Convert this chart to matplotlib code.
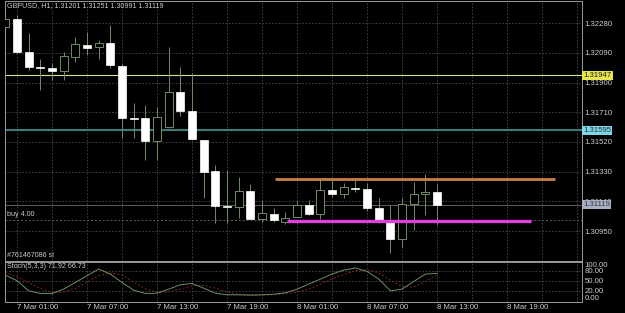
import matplotlib
matplotlib.use('Agg')
import matplotlib.pyplot as plt
from matplotlib.patches import Rectangle
import matplotlib.transforms as mtransforms

# ---------------- data ----------------
bars = list(range(1, 39))
opens = [1.32256, 1.32310, 1.32096, 1.32000, 1.31996, 1.31975, 1.32064, 1.32141, 1.32128, 1.32154,
         1.32007, 1.31674, 1.31674, 1.31526, 1.31616, 1.31840, 1.31719, 1.31533, 1.31334, 1.31110,
         1.31104, 1.31206, 1.31027, 1.31059, 1.31008, 1.31040, 1.31117, 1.31059, 1.31213, 1.31187,
         1.31225, 1.31219, 1.31097, 1.31008, 1.30899, 1.31123, 1.31187, 1.31201]
highs = [1.32327, 1.32333, 1.32218, 1.32051, 1.32026, 1.32096, 1.32192, 1.32224, 1.32173, 1.32269,
         1.32019, 1.31770, 1.31757, 1.31744, 1.32128, 1.32000, 1.31962, 1.31533, 1.31373, 1.31341,
         1.31296, 1.31251, 1.31142, 1.31097, 1.31072, 1.31142, 1.31149, 1.31283, 1.31283, 1.31257,
         1.31277, 1.31257, 1.31161, 1.31117, 1.31161, 1.31264, 1.31315, 1.31251]
lows = [1.32250, 1.32090, 1.31981, 1.31853, 1.31917, 1.31917, 1.32032, 1.32077, 1.32051, 1.31994,
        1.31546, 1.31546, 1.31405, 1.31405, 1.31610, 1.31686, 1.31539, 1.31161, 1.31001, 1.31001,
        1.31033, 1.31027, 1.31008, 1.31008, 1.30995, 1.31040, 1.31053, 1.31027, 1.31168, 1.31161,
        1.31200, 1.31078, 1.31001, 1.30809, 1.30848, 1.30957, 1.31053, 1.30991]
closes = [1.32308, 1.32096, 1.32000, 1.31996, 1.31975, 1.32071, 1.32147, 1.32122, 1.32154, 1.32013,
          1.31674, 1.31670, 1.31526, 1.31680, 1.31840, 1.31719, 1.31539, 1.31328, 1.31110, 1.31104,
          1.31206, 1.31027, 1.31065, 1.31021, 1.31033, 1.31117, 1.31059, 1.31213, 1.31187, 1.31232,
          1.31219, 1.31097, 1.31021, 1.30899, 1.31123, 1.31187, 1.31200, 1.31119]

stoch_main = [67, 50, 20, 12, 12, 25, 45, 65, 85, 70,
              45, 22, 12, 13, 25, 38, 42, 28, 13, 8,
              8, 7, 8, 10, 14, 25, 40, 55, 70, 82,
              88, 78, 55, 20, 25, 48, 70, 71.92]
stoch_signal = [75, 62, 45, 27, 15, 16, 27, 45, 65, 73,
                67, 46, 26, 16, 17, 25, 35, 36, 28, 16,
                10, 8, 8, 8, 11, 16, 26, 40, 55, 69,
                80, 83, 74, 51, 33, 31, 48, 66.73]

price_ticks = [1.32280, 1.32090, 1.31900, 1.31710, 1.31520, 1.31330, 1.31140, 1.30950]
time_tick_bars = [2, 8, 14, 20, 26, 32, 38, 44]
time_tick_labels = ['7 Mar 01:00', '7 Mar 07:00', '7 Mar 13:00', '7 Mar 19:00',
                    '8 Mar 01:00', '8 Mar 07:00', '8 Mar 13:00', '8 Mar 19:00']
grid_bars = list(range(2, 51, 3))
level_yellow = 1.31947
level_teal = 1.31595
level_orange = 1.31281
level_magenta = 1.31016
level_buy = 1.31021
level_bid = 1.31119
orange_span = (24.1, 48.1)
magenta_span = (25.1, 46.05)
stoch_ticks = [100, 80, 50, 20, 0]
stoch_levels = [80, 50, 20]
title_text = 'GBPUSD, H1, 1.31201 1.31251 1.30991 1.31119'
stoch_text = 'Stoch(5,3,3) 71.92 66.73'

# ---------------- style ----------------
BG = '#000000'
FG = '#cccccc'
FRAME = '#9a9a9a'
GRID = '#484848'
WICK = '#6e8e64'
FONT = 'Liberation Sans'
W, H = 625, 313

fig = plt.figure(figsize=(W / 100, H / 100), dpi=100, facecolor=BG)

def px_axes(x0, y0, x1, y1):
    return fig.add_axes([x0 / W, 1 - y1 / H, (x1 - x0) / W, (y1 - y0) / H])

ax = px_axes(5, 1, 582, 261)
ax2 = px_axes(5, 262, 582, 302)

XLIM = (0.974, 50.42)
for a in (ax, ax2):
    a.set_facecolor(BG)
    a.set_xlim(*XLIM)
    for s in a.spines.values():
        s.set_color(FRAME)
        s.set_linewidth(0.7)
    a.tick_params(length=0, colors=FG, labelsize=5.6)
    for gb in grid_bars:
        a.axvline(gb, color=GRID, lw=0.6, ls=(0, (2, 2)), zorder=0)

ax.set_ylim(1.307579, 1.324228)
ax.yaxis.tick_right()
ax.set_yticks(price_ticks)
ax.set_yticklabels([f'{p:.5f}' for p in price_ticks], fontfamily=FONT, fontsize=5.6, color=FG)
ax.tick_params(axis='y', pad=2)
ax.set_xticks([])
for p in price_ticks:
    ax.axhline(p, color=GRID, lw=0.6, ls=(0, (2, 2)), zorder=0)

# horizontal levels
ax.axhline(level_bid, color='#5c5c5c', lw=0.7, zorder=1)
ax.axhline(level_buy, color='#5c5c5c', lw=0.7, ls=(0, (2, 2)), zorder=1)
ax.axhline(level_yellow, color='#d8e08a', lw=0.8, zorder=1)
ax.axhline(level_teal, color='#3f7b76', lw=1.5, zorder=1)
ax.hlines(level_orange, *orange_span, color='#c8803e', lw=2.0, zorder=5)
ax.hlines(level_magenta, *magenta_span, color='#e040e0', lw=2.4, zorder=5)

# candles
bw = 0.686
minh = 6.4e-5
for x, o, h, l, c in zip(bars, opens, highs, lows, closes):
    ax.vlines(x, l, h, color=WICK, lw=0.7, zorder=2)
    lo, hi = min(o, c), max(o, c)
    height = max(hi - lo, minh)
    if c > o:
        r = Rectangle((x - bw / 2, lo), bw, height, facecolor=BG, edgecolor=WICK, lw=0.7, zorder=3)
    else:
        r = Rectangle((x - bw / 2, lo), bw, height, facecolor='#ffffff', edgecolor='#ffffff', lw=0.5, zorder=3)
    ax.add_patch(r)

# texts
ax.text(0.0035, 0.981, title_text, transform=ax.transAxes, color=FG, fontsize=5.1,
        fontfamily=FONT, va='center', ha='left')
trans = mtransforms.blended_transform_factory(ax.transAxes, ax.transData)
ax.text(0.0035, 1.31033, 'buy 4.00', transform=trans, color=FG, fontsize=5.1, fontfamily=FONT,
        va='bottom', ha='left')
ax.text(0.0035, 1.30772, '#761467086 sl', transform=trans, color=FG, fontsize=5.1, fontfamily=FONT,
        va='bottom', ha='left')

# price boxes at right
def price_box(val, fc, tc):
    ax.text(1.002, val, f'{val:.5f}', transform=trans, color=tc, fontsize=5.6, fontfamily=FONT,
            va='center', ha='left', zorder=10, clip_on=False,
            bbox=dict(boxstyle='square,pad=0.15', facecolor=fc, edgecolor='none'))

price_box(level_yellow, '#e6e64e', '#202020')
price_box(level_teal, '#7fd6e6', '#203040')
price_box(level_bid, '#a8b0c0', '#303848')

# stochastic
ax2.set_ylim(-13.4, 106)
ax2.yaxis.tick_right()
ax2.set_yticks(stoch_ticks)
ax2.set_yticklabels([f'{v:.2f}' for v in stoch_ticks], fontfamily=FONT, fontsize=5.6, color=FG)
ax2.tick_params(axis='y', pad=2)
for lv in stoch_levels:
    ax2.axhline(lv, color=GRID, lw=0.6, ls=(0, (2, 2)), zorder=0)
ax2.plot(bars, stoch_signal, color='#7a2a2a', lw=0.7, ls=(0, (2, 2)), zorder=2)
ax2.plot(bars, stoch_main, color='#6e8e64', lw=0.7, zorder=3)
ax2.text(0.0035, 0.9, stoch_text, transform=ax2.transAxes, color=FG, fontsize=5.1,
         fontfamily=FONT, va='center', ha='left')

ax2.set_xticks(time_tick_bars)
ax2.set_xticklabels(time_tick_labels, fontfamily=FONT, fontsize=5.6, color=FG)
for lbl in ax2.get_xticklabels():
    lbl.set_horizontalalignment('left')
ax2.tick_params(axis='x', pad=1.5)

fig.savefig('out.png', dpi=100, facecolor=BG)
